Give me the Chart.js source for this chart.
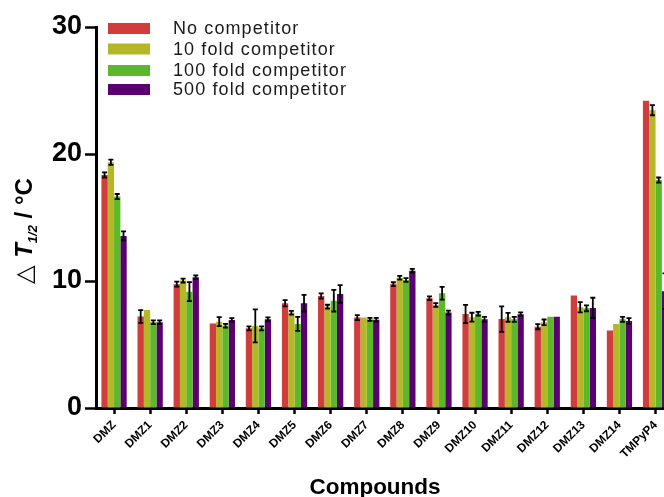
<!DOCTYPE html>
<html>
<head>
<meta charset="utf-8">
<script src="https://cdn.jsdelivr.net/npm/chart.js@4/dist/chart.umd.min.js"></script>
<style>
  html, body { margin: 0; padding: 0; background: #fff; overflow: hidden; width: 664px; height: 497px; }
  canvas { display: block; }
</style>
</head>
<body>
<canvas id="c" width="700" height="497" style="width:700px;height:497px"></canvas>
<script>
// Compounds tested
const categories = ['DMZ','DMZ1','DMZ2','DMZ3','DMZ4','DMZ5','DMZ6','DMZ7','DMZ8','DMZ9','DMZ10','DMZ11','DMZ12','DMZ13','DMZ14','TMPyP4'];

// ΔT1/2 (°C) per competitor ratio
const noCompetitor  = [18.35, 7.20,  9.75, 6.65, 6.27, 8.25, 8.82, 7.12,  9.75, 8.64, 7.40, 7.00, 6.40, 8.85, 6.10, 24.20];
const fold10        = [19.35, 7.72, 10.03, 6.80, 6.46, 7.50, 7.98, 7.12, 10.26, 8.11, 7.15, 7.14, 6.75, 7.93, 6.62, 23.45];
const fold100       = [16.65, 6.75,  9.16, 6.48, 6.27, 6.62, 8.45, 6.98, 10.08, 9.03, 7.42, 6.98, 7.19, 7.85, 6.98, 17.95];
const fold500       = [13.55, 6.75, 10.29, 6.93, 6.98, 8.25, 8.98, 6.95, 10.81, 7.51, 6.98, 7.38, 7.19, 7.88, 6.85,  9.20];

// Standard deviations
const errNo   = [0.20, 0.50, 0.20, 0.00, 0.15, 0.25, 0.20, 0.20, 0.15, 0.15, 0.72, 1.00, 0.20, 0.00, 0.00, 0.00];
const err10   = [0.20, 0.00, 0.15, 0.35, 1.30, 0.15, 0.15, 0.00, 0.15, 0.15, 0.35, 0.35, 0.22, 0.40, 0.00, 0.40];
const err100  = [0.20, 0.15, 0.75, 0.15, 0.15, 0.55, 0.85, 0.12, 0.15, 0.50, 0.15, 0.20, 0.00, 0.23, 0.20, 0.20];
const err500  = [0.35, 0.15, 0.15, 0.15, 0.15, 0.65, 0.70, 0.15, 0.15, 0.15, 0.20, 0.15, 0.00, 0.80, 0.22, 1.40];

const yTicks = [0, 10, 20, 30];

const seriesNames = ['No competitor', '10 fold competitor', '100 fold competitor', '500 fold competitor'];
const seriesColors = ['#cf3d3d', '#b4b828', '#5ab82a', '#5a0070'];
const seriesData = [noCompetitor, fold10, fold100, fold500];
const seriesErr = [errNo, err10, err100, err500];

const FONT = '"Liberation Sans", Arial, Helvetica, sans-serif';

// Error bars drawn on top of each bar
const errorBars = {
  id: 'errorBars',
  afterDatasetsDraw(chart) {
    const ctx = chart.ctx;
    const y = chart.scales.y;
    ctx.save();
    ctx.strokeStyle = '#000';
    ctx.lineWidth = 1.8;
    chart.data.datasets.forEach((ds, i) => {
      const meta = chart.getDatasetMeta(i);
      meta.data.forEach((bar, j) => {
        const e = ds.errors[j];
        if (!e) return;
        const v = ds.data[j];
        const yt = y.getPixelForValue(v + e);
        const yb = y.getPixelForValue(v - e);
        const x = bar.x;
        const hw = 2.5;
        ctx.beginPath();
        ctx.moveTo(x, yt); ctx.lineTo(x, yb);
        ctx.moveTo(x - hw, yt); ctx.lineTo(x + hw, yt);
        ctx.moveTo(x - hw, yb); ctx.lineTo(x + hw, yb);
        ctx.stroke();
      });
    });
    ctx.restore();
  }
};

// Legend, axis titles
const annotations = {
  id: 'annotations',
  afterDraw(chart) {
    const ctx = chart.ctx;
    ctx.save();
    // legend
    const rows = [28.5, 49, 70.5, 89.5];
    ctx.font = '18px ' + FONT;
    ctx.letterSpacing = '1.1px';
    ctx.textBaseline = 'middle';
    ctx.textAlign = 'left';
    chart.data.datasets.forEach((ds, i) => {
      ctx.fillStyle = ds.backgroundColor;
      ctx.fillRect(108, rows[i] - 5.5, 42, 11);
      ctx.fillStyle = '#1a1a1a';
      ctx.fillText(ds.label, 173, rows[i] + 1);
    });
    ctx.letterSpacing = '0px';

    // x-axis title
    ctx.fillStyle = '#000';
    ctx.font = 'bold 22.5px ' + FONT;
    ctx.textAlign = 'center';
    ctx.textBaseline = 'alphabetic';
    ctx.fillText('Compounds', 375, 494);

    // y-axis title: △ T1/2 / °C
    const parts = [
      { t: '\u25B3 ', f: '24px "DejaVu Sans", ' + FONT, dy: 0 },
      { t: 'T', f: 'italic bold 24px ' + FONT, dy: 0 },
      { t: '1/2', f: 'italic bold 13px ' + FONT, dy: 5 },
      { t: ' / \u00B0C', f: 'bold 24px ' + FONT, dy: 0 }
    ];
    let total = 0;
    parts.forEach(p => { ctx.font = p.f; p.w = ctx.measureText(p.t).width; total += p.w; });
    ctx.translate(32, 231);
    ctx.rotate(-Math.PI / 2);
    ctx.textAlign = 'left';
    let x = -total / 2;
    parts.forEach(p => {
      ctx.font = p.f;
      ctx.fillText(p.t, x, p.dy);
      x += p.w;
    });
    ctx.restore();
  }
};

new Chart(document.getElementById('c'), {
  type: 'bar',
  data: {
    labels: categories,
    datasets: seriesData.map((d, i) => ({
      label: seriesNames[i],
      data: d,
      errors: seriesErr[i],
      backgroundColor: seriesColors[i],
      borderWidth: 0,
      categoryPercentage: 0.7,
      barPercentage: 1.0
    }))
  },
  options: {
    responsive: false,
    animation: false,
    devicePixelRatio: 1,
    layout: { padding: { left: 0, top: 27, right: 26.4, bottom: 0 } },
    plugins: { legend: { display: false }, tooltip: { enabled: false } },
    scales: {
      x: {
        offset: true,
        grid: { display: true, drawOnChartArea: false, drawTicks: true, offset: false, tickLength: 6, tickWidth: 2.5, tickColor: '#000' },
        border: { display: true, width: 3, color: '#000' },
        ticks: {
          color: '#000',
          font: { family: FONT, weight: 'bold', size: 12 },
          minRotation: 45, maxRotation: 45,
          padding: 4,
          autoSkip: false
        },
        afterFit(s) { s.height = 89; }
      },
      y: {
        min: 0, max: 30,
        afterBuildTicks(s) { s.ticks = yTicks.map(v => ({ value: v })); },
        grid: { display: true, drawOnChartArea: false, drawTicks: true, tickLength: 11, tickWidth: 2.5, tickColor: '#000' },
        border: { display: true, width: 3, color: '#000' },
        ticks: {
          color: '#000',
          font: { family: FONT, weight: 'bold', size: 27 },
          padding: 3
        },
        afterFit(s) { s.width = 96; }
      }
    }
  },
  plugins: [errorBars, annotations]
});
</script>
</body>
</html>
